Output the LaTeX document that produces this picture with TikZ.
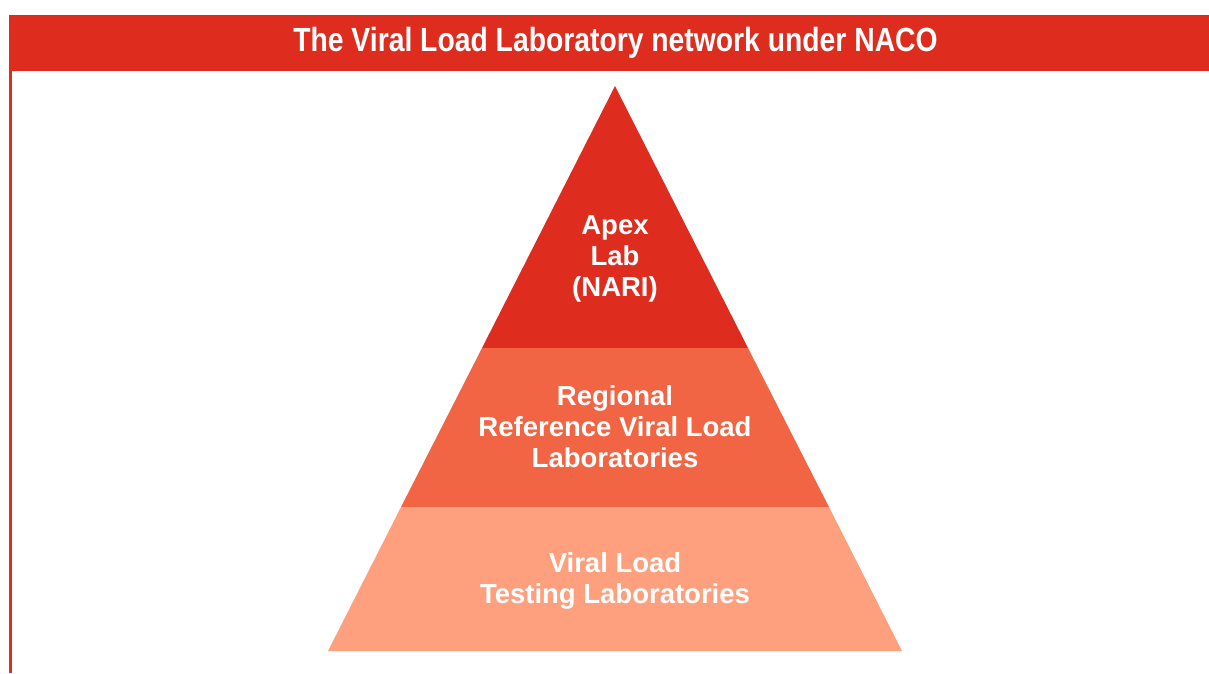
\documentclass[tikz,border=0pt]{standalone}
\usepackage{fontspec}
\setmainfont{Liberation Sans}
\usepackage{graphicx}
\definecolor{apexred}{HTML}{DE2D1E}
\definecolor{midorange}{HTML}{F26544}
\definecolor{lowsalmon}{HTML}{FE9F7E}
\begin{document}
\begin{tikzpicture}[x=1pt,y=-1pt,
  tiertext/.style={text=white,align=center,font=\fontsize{27.5}{31}\selectfont\bfseries,inner sep=0pt},
  titletext/.style={text=white,font=\fontsize{33.5}{36}\selectfont\bfseries,inner sep=0pt}]
\useasboundingbox (0,0) rectangle (1209,673);
% title bar and left border
\fill[apexred] (8.5,15) rectangle (1209,70.5);
\fill[apexred] (8.5,70.5) rectangle (11.5,673);
\node[titletext] (title) at (615.5,42.5) {\scalebox{0.845}[1]{The Viral Load Laboratory network under NACO}};
% pyramid tiers
\coordinate (apex) at (615,86);
\coordinate (l1) at (482,348);
\coordinate (r1) at (748,348);
\coordinate (l2) at (401,507);
\coordinate (r2) at (829,507);
\coordinate (l3) at (328,651);
\coordinate (r3) at (902,651);
\fill[apexred] (apex) -- (r1) -- (l1) -- cycle;
\fill[midorange] (l1) -- (r1) -- (r2) -- (l2) -- cycle;
\fill[lowsalmon] (l2) -- (r2) -- (r3) -- (l3) -- cycle;
% labels
\node[tiertext] (apexlab) at (615,259) {Apex\\Lab\\(NARI)};
\node[tiertext] (regional) at (615,427) {Regional\\Reference Viral Load\\Laboratories};
\node[tiertext] (testing) at (615,581) {Viral Load\\Testing Laboratories};
\end{tikzpicture}
\end{document}
